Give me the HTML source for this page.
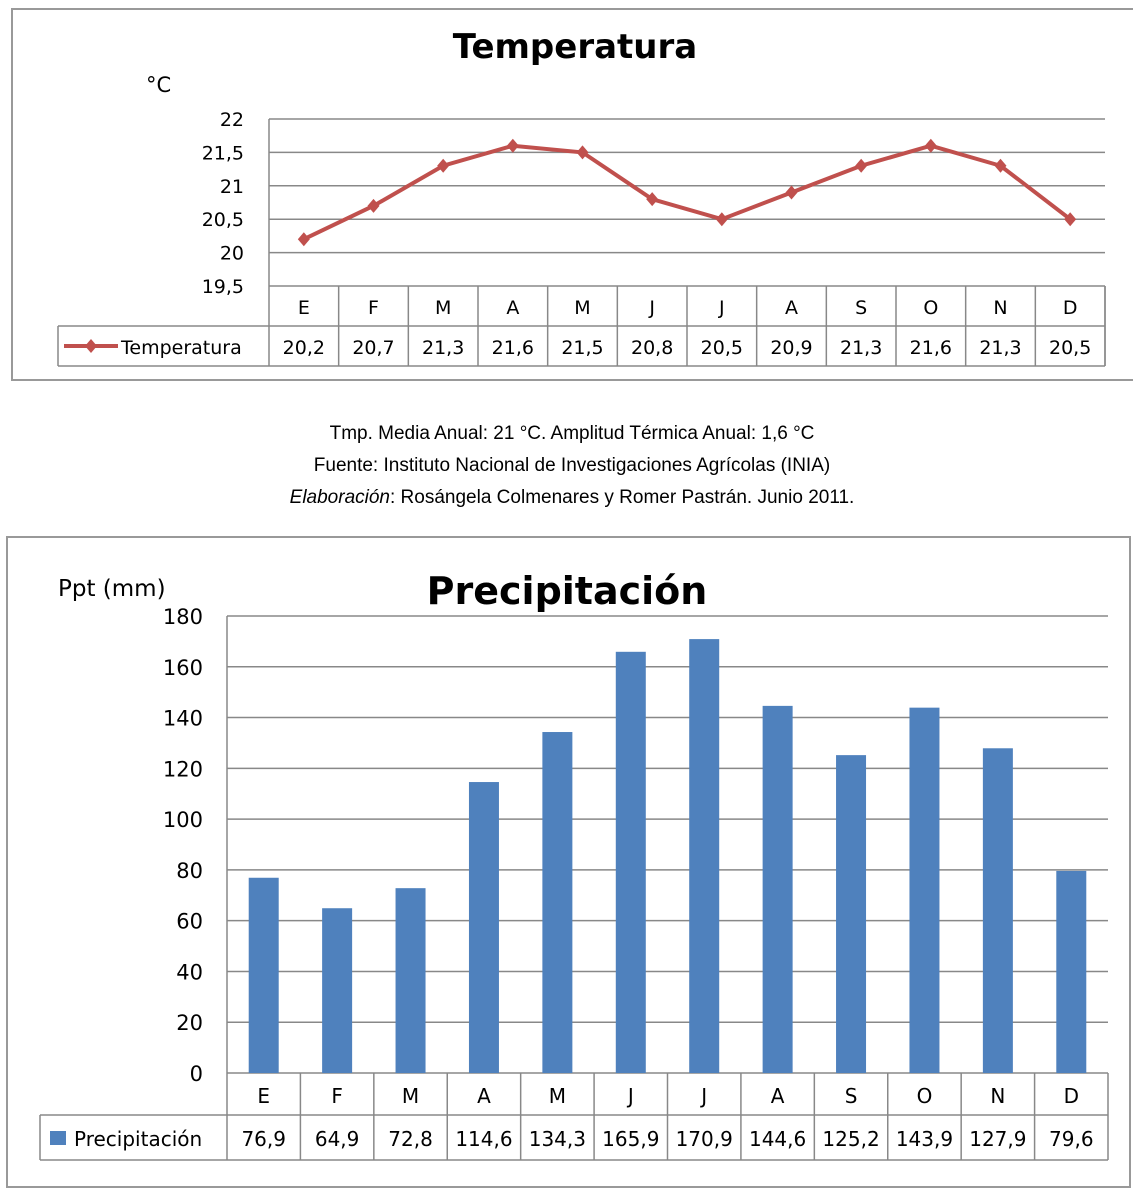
<!DOCTYPE html>
<html><head><meta charset="utf-8"><style>
body{margin:0;background:#fff;width:1133px;height:1192px;overflow:hidden;font-family:"Liberation Sans","DejaVu Sans",sans-serif}
svg text{font-family:"DejaVu Sans","Liberation Sans",sans-serif}
svg text.cap{font-family:"Liberation Sans",sans-serif}
</style></head><body>
<svg id="s" width="1133" height="1192" xmlns="http://www.w3.org/2000/svg">
<rect x="12" y="9" width="1125" height="371" fill="#fff" stroke="#999" stroke-width="2"/>
<text x="575" y="58" text-anchor="middle" font-size="34" font-weight="bold">Temperatura</text>
<text x="146" y="92" font-size="21">°C</text>
<g id="t"></g>
<text class="cap" x="572" y="439" text-anchor="middle" font-size="19">Tmp. Media Anual: 21 °C.  Amplitud Térmica Anual: 1,6 °C</text>
<text class="cap" x="572" y="471" text-anchor="middle" font-size="19">Fuente: Instituto Nacional de Investigaciones Agrícolas (INIA)</text>
<text class="cap" x="572" y="503" text-anchor="middle" font-size="19"><tspan font-style="italic">Elaboración</tspan>: Rosángela Colmenares y Romer Pastrán. Junio 2011.</text>
<rect x="7" y="537" width="1123" height="650" fill="#fff" stroke="#999" stroke-width="2"/>
<text x="567" y="604" text-anchor="middle" font-size="38" font-weight="bold">Precipitación</text>
<text x="58" y="596" font-size="23">Ppt (mm)</text>
<g id="p"></g>
</svg>
<script>
const months=["E","F","M","A","M","J","J","A","S","O","N","D"];
const tempValues=[20.2,20.7,21.3,21.6,21.5,20.8,20.5,20.9,21.3,21.6,21.3,20.5];
const tempLabels=["20,2","20,7","21,3","21,6","21,5","20,8","20,5","20,9","21,3","21,6","21,3","20,5"];
const tempTicks=[19.5,20,20.5,21,21.5,22];
const tempTickLabels=["19,5","20","20,5","21","21,5","22"];
const pptValues=[76.9,64.9,72.8,114.6,134.3,165.9,170.9,144.6,125.2,143.9,127.9,79.6];
const pptLabels=["76,9","64,9","72,8","114,6","134,3","165,9","170,9","144,6","125,2","143,9","127,9","79,6"];
const pptTicks=[0,20,40,60,80,100,120,140,160,180];
const NS="http://www.w3.org/2000/svg";
function mk(p,tag,a,txt){const e=document.createElementNS(NS,tag);for(const k in a)e.setAttribute(k,a[k]);if(txt!=null)e.textContent=txt;p.appendChild(e);return e;}
// Temperature
(function(){
const g=document.getElementById('t');
const x0=269,x1=1105,yT=119,yB=286,cw=(x1-x0)/12;
const y=v=>yB-(v-19.5)/(22-19.5)*(yB-yT);
const cx=i=>x0+cw*(i+0.5);
tempTicks.forEach((v,i)=>{
 const l=mk(g,'line',{x1:x0,x2:x1,y1:y(v),y2:y(v),stroke:'#888','stroke-width':1.5});
 
 
 const t=mk(g,'text',{x:244,y:y(v)+7,'text-anchor':'end','font-size':19},tempTickLabels[i]);
 
 
});
mk(g,'line',{x1:x0,x2:x0,y1:yT,y2:366,stroke:'#888','stroke-width':1.5});
mk(g,'line',{x1:58,x2:x1,y1:326,y2:326,stroke:'#888','stroke-width':1.5});
mk(g,'line',{x1:58,x2:x1,y1:366,y2:366,stroke:'#888','stroke-width':1.5});
mk(g,'line',{x1:58,x2:58,y1:326,y2:366,stroke:'#888','stroke-width':1.5});
mk(g,'line',{x1:x1,x2:x1,y1:yB,y2:366,stroke:'#888','stroke-width':1.5});
for(let i=0;i<12;i++){
 mk(g,'line',{x1:x0+cw*(i+1),x2:x0+cw*(i+1),y1:yB,y2:366,stroke:'#888','stroke-width':1.5});
 const h=mk(g,'text',{x:cx(i),y:314,'text-anchor':'middle','font-size':19},months[i]);
 
 
 const d=mk(g,'text',{x:cx(i),y:354,'text-anchor':'middle','font-size':19},tempLabels[i]);
 
 
}
const pl=mk(g,'polyline',{points:tempValues.map((v,i)=>cx(i)+','+y(v)).join(' '),fill:'none',stroke:'#c0504d','stroke-width':4});


tempValues.forEach((v,i)=>{
 const m=mk(g,'path',{d:`M${cx(i)},${y(v)-7}l6,7l-6,7l-6,-7z`,fill:'#c0504d'});
 
 
});
mk(g,'line',{x1:64,x2:118,y1:346,y2:346,stroke:'#c0504d','stroke-width':4});
mk(g,'path',{d:'M91,339l6,7l-6,7l-6,-7z',fill:'#c0504d'});
const lt=mk(g,'text',{x:121,y:354,'font-size':19},'Temperatura');


})();
// Precipitation
(function(){
const g=document.getElementById('p');
const x0=227,x1=1108,yT=616,yB=1073,cw=(x1-x0)/12;
const y=v=>yB-v/180*(yB-yT);
const cx=i=>x0+cw*(i+0.5);
pptTicks.forEach(v=>{
 const l=mk(g,'line',{x1:x0,x2:x1,y1:y(v),y2:y(v),stroke:'#888','stroke-width':1.5});
 
 
 const t=mk(g,'text',{x:203,y:y(v)+8,'text-anchor':'end','font-size':21},String(v));
 
 
});
pptValues.forEach((v,i)=>{
 const r=mk(g,'rect',{x:cx(i)-15,y:y(v),width:30,height:yB-y(v),fill:'#4f81bd'});
 
 
});
mk(g,'line',{x1:x0,x2:x0,y1:yT,y2:1160,stroke:'#888','stroke-width':1.5});
mk(g,'line',{x1:40,x2:x1,y1:1115,y2:1115,stroke:'#888','stroke-width':1.5});
mk(g,'line',{x1:40,x2:x1,y1:1160,y2:1160,stroke:'#888','stroke-width':1.5});
mk(g,'line',{x1:40,x2:40,y1:1115,y2:1160,stroke:'#888','stroke-width':1.5});
for(let i=0;i<12;i++){
 mk(g,'line',{x1:x0+cw*(i+1),x2:x0+cw*(i+1),y1:yB,y2:1160,stroke:'#888','stroke-width':1.5});
 const h=mk(g,'text',{x:cx(i),y:1103,'text-anchor':'middle','font-size':20},months[i]);
 
 
 const d=mk(g,'text',{x:cx(i),y:1146,'text-anchor':'middle','font-size':20},pptLabels[i]);
 
 
}
mk(g,'rect',{x:50,y:1131,width:16,height:14,fill:'#4f81bd'});
const lt=mk(g,'text',{x:74,y:1146,'font-size':20},'Precipitación');


})();
</script>
</body></html>
